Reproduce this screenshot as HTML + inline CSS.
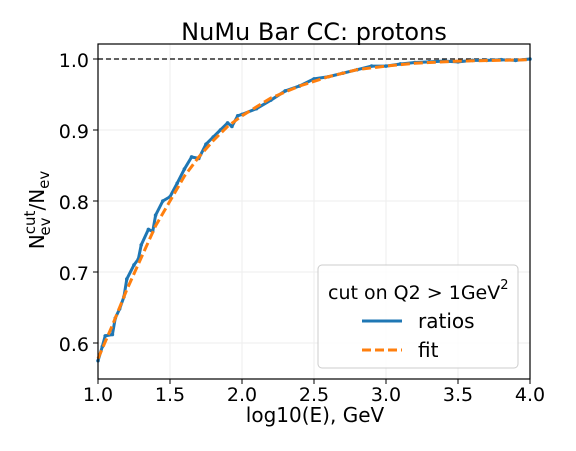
<!DOCTYPE html>
<html><head><meta charset="utf-8"><style>
body{margin:0;background:#fff}
svg{font-family:"DejaVu Sans","Liberation Sans",sans-serif}
</style></head><body>
<svg id="c" width="576" height="446">
<text x="314" y="40" font-size="24" text-anchor="middle">NuMu Bar CC: protons</text>
<g id="grid"></g>
<g id="plot"></g>
<rect x="98" y="44" width="432" height="335" fill="none" stroke="#000" stroke-width="1.2"/>
<g id="ticks"></g>
<text x="315" y="422" font-size="20" text-anchor="middle">log10(E), GeV</text>
<text transform="translate(44,210) rotate(-90)" font-size="20" text-anchor="middle">N<tspan font-size="15" dy="-9">cut</tspan><tspan font-size="15" dx="-25" dy="15">ev</tspan><tspan dx="7" dy="-6">/N</tspan><tspan font-size="15" dy="5">ev</tspan></text>
<g>
<rect x="318" y="265" width="200" height="103" rx="4" fill="#fff" fill-opacity="0.8" stroke="#ccc"/>
<text x="328" y="299" font-size="19">cut on Q2 &gt; 1GeV<tspan font-size="13" dy="-10">2</tspan></text>
<line x1="362" y1="321" x2="402" y2="321" stroke="#1f77b4" stroke-width="3"/>
<text x="418" y="328" font-size="20">ratios</text>
<line x1="362" y1="350" x2="402" y2="350" stroke="#ff7f0e" stroke-width="3" stroke-dasharray="9,4"/>
<text x="418" y="357" font-size="20">fit</text>
</g>
</svg>
<script>
const ratioX=[1.0,1.03,1.05,1.1,1.12,1.15,1.18,1.2,1.25,1.28,1.3,1.35,1.38,1.4,1.45,1.5,1.55,1.6,1.65,1.7,1.75,1.8,1.85,1.9,1.93,1.97,2.0,2.1,2.2,2.3,2.4,2.5,2.6,2.7,2.8,2.9,3.0,3.1,3.2,3.3,3.4,3.5,3.6,3.7,3.8,3.9,4.0];
const ratioY=[0.575,0.595,0.61,0.612,0.635,0.648,0.665,0.69,0.71,0.718,0.738,0.76,0.757,0.78,0.80,0.806,0.825,0.845,0.862,0.86,0.88,0.89,0.9,0.91,0.905,0.92,0.922,0.93,0.942,0.955,0.962,0.972,0.975,0.98,0.985,0.99,0.99,0.993,0.995,0.996,0.997,0.996,0.998,0.998,0.999,0.998,1.0];
const fitX=[1.0,1.1,1.2,1.3,1.4,1.5,1.6,1.7,1.8,1.9,2.0,2.2,2.4,2.6,2.8,3.0,3.2,3.5,4.0];
const fitY=[0.578,0.625,0.675,0.72,0.765,0.80,0.835,0.862,0.885,0.905,0.92,0.945,0.962,0.975,0.985,0.99,0.994,0.997,0.999];
const xTicks=[1.0,1.5,2.0,2.5,3.0,3.5,4.0];
const yTicks=[0.6,0.7,0.8,0.9,1.0];
const NS="http://www.w3.org/2000/svg";
const sx=v=>98+(v-1)*144;
const sy=v=>59+(1-v)*710;
function mk(t,a,p){const e=document.createElementNS(NS,t);for(const k in a)e.setAttribute(k,a[k]);p.appendChild(e);return e;}
const grid=document.getElementById('grid'),ticks=document.getElementById('ticks'),plot=document.getElementById('plot');
xTicks.forEach(v=>{
 const g=mk('line',{x1:sx(v),x2:sx(v),y1:44,y2:379,stroke:'#eee'},grid);
 
 
 const t=mk('line',{x1:sx(v),x2:sx(v),y1:379,y2:384,stroke:'#000'},ticks);
 
 
 const l=mk('text',{x:sx(v),y:401,'font-size':19,'text-anchor':'middle'},ticks);
 l.textContent=v.toFixed(1);
 
 
});
yTicks.forEach(v=>{
 const g=mk('line',{x1:98,x2:530,y1:sy(v),y2:sy(v),stroke:'#eee'},grid);
 
 
 const t=mk('line',{x1:93,x2:98,y1:sy(v),y2:sy(v),stroke:'#000'},ticks);
 
 
 const l=mk('text',{x:89,y:sy(v)+8,'font-size':19,'text-anchor':'end'},ticks);
 l.textContent=v.toFixed(1);
 
 
});
const ref=mk('line',{x1:98,x2:530,y1:sy(1),y2:sy(1),stroke:'#000','stroke-dasharray':'5,3','stroke-width':1.2},plot);


const rl=mk('polyline',{points:ratioX.map((x,i)=>sx(x)+','+sy(ratioY[i])).join(' '),fill:'none',stroke:'#1f77b4','stroke-width':3,'stroke-linejoin':'round'},plot);


ratioX.forEach((x,i)=>{
 const c=mk('circle',{cx:sx(x),cy:sy(ratioY[i]),r:1.8,fill:'#1f77b4'},plot);
 
 
});
const fl=mk('polyline',{points:fitX.map((x,i)=>sx(x)+','+sy(fitY[i])).join(' '),fill:'none',stroke:'#ff7f0e','stroke-width':3,'stroke-dasharray':'9,4'},plot);


</script>
</body></html>
